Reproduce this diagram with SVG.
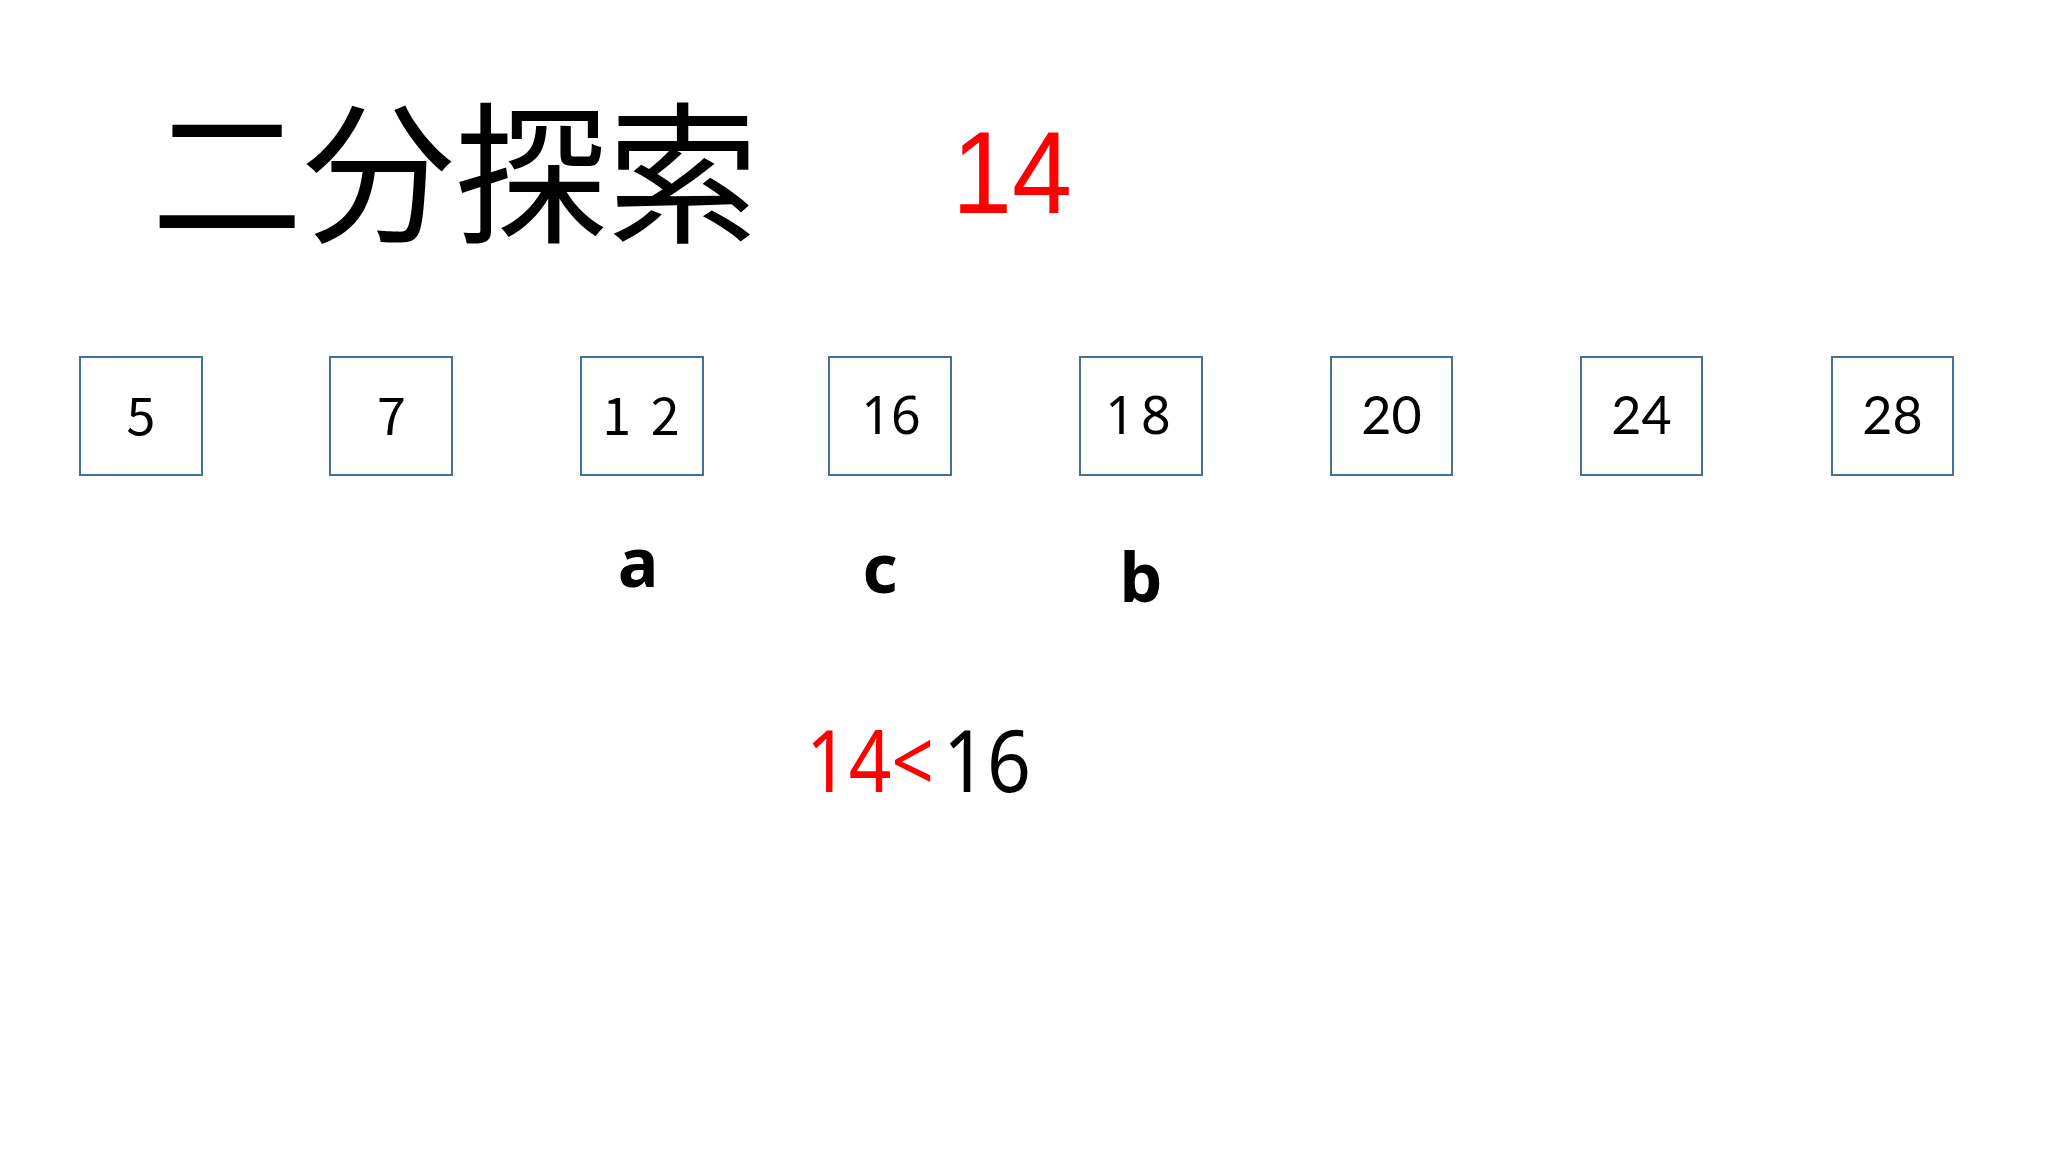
<svg xmlns="http://www.w3.org/2000/svg" width="2048" height="1152" viewBox="0 0 2048 1152">
<style>
.box{fill:#ffffff;stroke:#41719c;stroke-width:2}
.num{font-size:52px;fill:#000;text-anchor:middle}
.f1{font-family:"Noto Sans CJK JP","Noto Sans",sans-serif}
.f2{font-family:"Noto Sans","DejaVu Sans",sans-serif}
.f3{font-family:Lato,"Liberation Sans",sans-serif}
.ptr{font-family:"Noto Sans","Open Sans",sans-serif;font-weight:bold;font-size:68px;fill:#000;text-anchor:middle}
.cmp{font-family:"Noto Sans","Open Sans",sans-serif;font-size:85px}
</style>
<rect x="0" y="0" width="2048" height="1152" fill="#ffffff"/>
<g id="title">
<text x="151" y="231" font-family="'Noto Sans CJK JP','Noto Sans CJK SC',sans-serif" font-size="152" fill="#000">二分探索</text>
</g>
<g id="target">
<text x="952" y="213" font-family="'Liberation Sans',Arial,sans-serif" font-size="116" fill="#ff0000" textLength="120" lengthAdjust="spacingAndGlyphs">14</text>
</g>
<g id="node-5"><rect class="box" x="80" y="357" width="122" height="118"/><text class="num f1" x="141" y="435">5</text></g>
<g id="node-7"><rect class="box" x="330" y="357" width="122" height="118"/><text class="num f1" x="391.5" y="435">7</text></g>
<g id="node-12"><rect class="box" x="581" y="357" width="122" height="118"/><text class="num f1" x="643" y="435" xml:space="preserve" letter-spacing="4">1 2</text></g>
<g id="node-16"><rect class="box" x="829" y="357" width="122" height="118"/><text class="num f2" x="891" y="434">16</text></g>
<g id="node-18"><rect class="box" x="1080" y="357" width="122" height="118"/><text class="num f2" x="1141" y="434" letter-spacing="6">18</text></g>
<g id="node-20"><rect class="box" x="1331" y="357" width="121" height="118"/><text class="num f3" x="1391.5" y="434">20</text></g>
<g id="node-24"><rect class="box" x="1581" y="357" width="121" height="118"/><text class="num f3" x="1641.5" y="434">24</text></g>
<g id="node-28"><rect class="box" x="1832" y="357" width="121" height="118"/><text class="num f3" x="1892.5" y="434">28</text></g>
<g id="label-a"><text class="ptr" x="638" y="587">a</text></g>
<g id="label-c"><text class="ptr" x="880" y="593">c</text></g>
<g id="label-b"><text class="ptr" x="1141" y="602">b</text></g>
<g id="comparison">
<text class="cmp" x="806" y="792" fill="#ff0000" textLength="128" lengthAdjust="spacingAndGlyphs">14&lt;</text>
<text class="cmp" x="943" y="792" fill="#000000" textLength="88" lengthAdjust="spacingAndGlyphs">16</text>
</g>
<g id="connectors"></g>
</svg>
